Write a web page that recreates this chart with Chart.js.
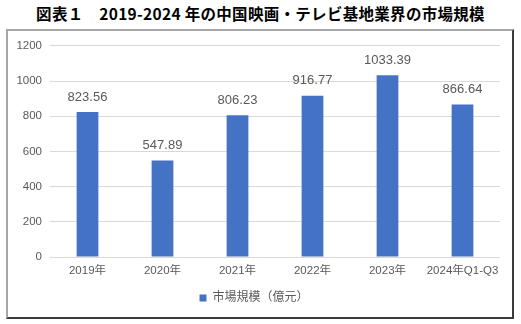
<!DOCTYPE html>
<html><head><meta charset="utf-8">
<script src="https://cdn.jsdelivr.net/npm/chart.js@4/dist/chart.umd.min.js"></script>
<style>
html,body{margin:0;padding:0;background:#fff;width:521px;height:324px;overflow:hidden;}
#title{position:absolute;left:0;top:3px;width:521px;text-align:center;font-family:"Noto Sans CJK JP",sans-serif;font-weight:bold;font-size:15.5px;line-height:20px;color:#000;letter-spacing:0.3px;}
#box{position:absolute;left:6px;top:29px;width:504px;height:286px;border-left:2px solid #a6a6a6;border-top:2px solid #a6a6a6;border-right:2px solid #3a3a3a;border-bottom:2px solid #3a3a3a;}
#c{display:block;}
</style></head><body>
<div id="title">図表１　2019-2024 年の中国映画・テレビ基地業界の市場規模</div>
<div id="box"><canvas id="c" width="504" height="286"></canvas></div>
<script>
const categories = ["2019年","2020年","2021年","2022年","2023年","2024年Q1-Q3"];
const marketSize = [823.56, 547.89, 806.23, 916.77, 1033.39, 866.64];
const yTicks = [0,200,400,600,800,1000,1200];
const seriesName = "市場規模（億元）";

const labelFont = '"Liberation Sans","Noto Sans CJK JP",sans-serif';
const dataLabels = {
  id:'dataLabels',
  afterDatasetsDraw(chart){
    const ctx = chart.ctx;
    const meta = chart.getDatasetMeta(0);
    ctx.save();
    ctx.font = '13px ' + labelFont;
    ctx.fillStyle = '#595959';
    ctx.textAlign = 'center';
    ctx.textBaseline = 'middle';
    meta.data.forEach((bar,i)=>{
      ctx.fillText(marketSize[i].toFixed(2), bar.x, bar.y - 15);
    });
    ctx.restore();
  }
};

new Chart(document.getElementById('c'), {
  type:'bar',
  data:{labels:categories, datasets:[{label:seriesName, data:marketSize, backgroundColor:'#4472C4', borderWidth:0, categoryPercentage:1, barPercentage:0.29}]},
  options:{
    responsive:false, animation:false,
    layout:{padding:{left:0,right:12,top:13,bottom:3}},
    scales:{
      x:{grid:{display:false, drawTicks:false}, border:{display:false}, afterFit(s){s.height=25;},
         ticks:{color:'#595959', font:{family:labelFont,size:11.5}, padding:7, maxRotation:0, autoSkip:false}},
      y:{min:0,max:1200, afterFit(s){s.width=42;},
         afterBuildTicks(s){s.ticks = yTicks.map(v=>({value:v}));},
         grid:{color:'#d9d9d9', drawTicks:false}, border:{display:false},
         ticks:{color:'#595959', font:{family:labelFont,size:11.5}, padding:8, callback:(v)=>String(v)}}
    },
    plugins:{
      legend:{position:'bottom', labels:{color:'#595959', font:{family:labelFont,size:12}, boxWidth:7, boxHeight:7, padding:10}},
      tooltip:{enabled:false}
    }
  },
  plugins:[dataLabels]
});
</script>
</body></html>
